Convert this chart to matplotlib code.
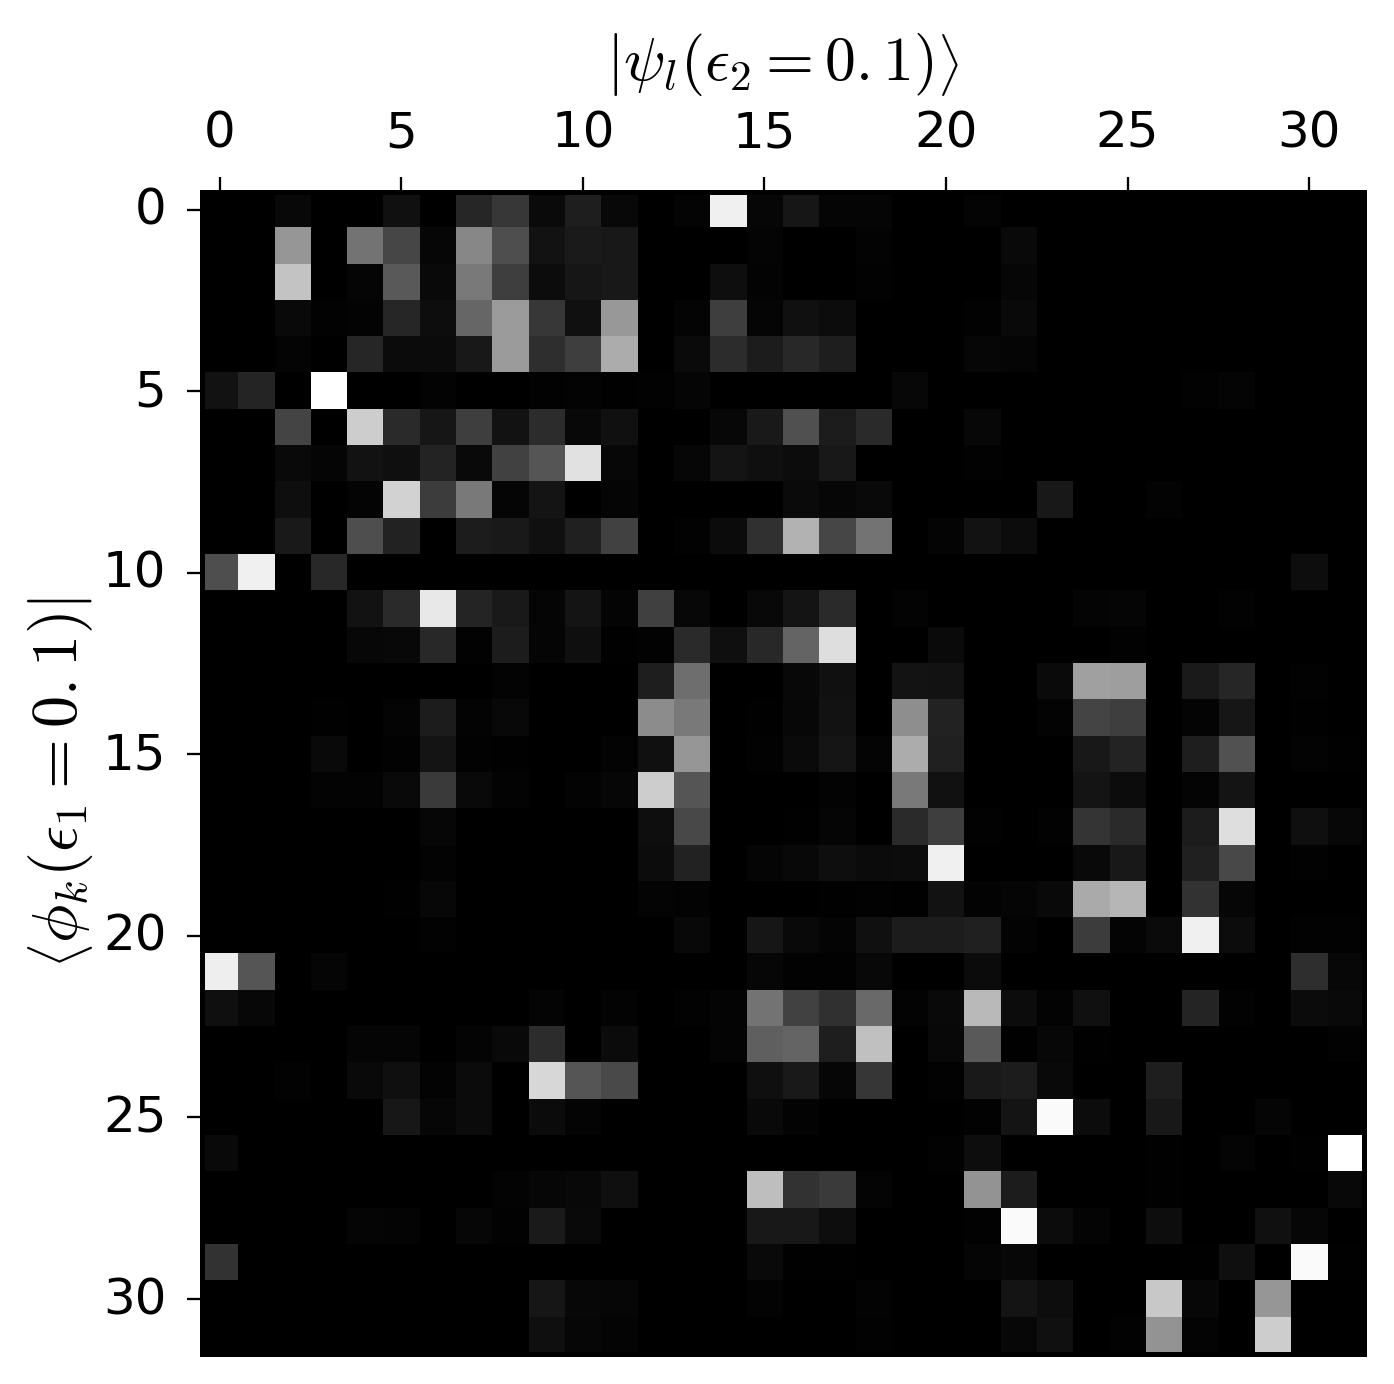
#!/usr/bin/python3
import numpy as np
import matplotlib as mpl
mpl.use('Agg')
import matplotlib.pyplot as plt
from matplotlib.transforms import ScaledTranslation

# overlap magnitudes, as grey levels 0-255, one list per row k
overlap = [
    [0,0,8,0,0,16,0,38,55,10,30,8,0,4,240,6,22,5,5,0,0,4,0,0,0,0,0,0,0,0,0,0],
    [0,0,150,0,115,70,6,135,78,18,26,24,0,0,0,4,0,0,3,0,0,0,9,0,0,0,0,0,0,0,0,0],
    [0,0,195,0,5,90,9,122,62,12,22,24,0,0,14,3,0,0,2,0,0,0,6,0,0,0,0,0,0,0,0,0],
    [0,0,9,2,3,38,13,102,155,55,16,152,0,4,62,5,16,12,0,0,0,2,9,0,0,0,0,0,0,0,0,0],
    [0,0,4,0,38,11,11,24,155,46,62,172,0,10,44,28,40,30,0,0,0,6,5,0,0,0,0,0,0,0,0,0],
    [18,36,0,255,0,0,3,0,0,2,3,1,2,5,0,0,0,0,0,7,0,0,0,0,0,0,0,2,4,0,0,0],
    [0,0,68,0,205,42,22,62,18,44,8,16,0,0,7,25,80,28,42,0,0,7,0,0,0,0,0,0,0,0,0,0],
    [0,0,9,5,18,15,35,9,65,85,225,7,0,6,20,15,12,24,0,0,0,2,0,0,0,0,0,0,0,0,0,0],
    [0,0,14,0,4,210,60,122,5,20,0,5,0,0,0,0,10,6,9,0,0,0,0,24,0,0,3,0,0,0,0,0],
    [0,0,25,0,78,34,0,28,25,16,32,65,0,2,11,48,178,70,115,0,4,18,12,0,0,0,0,0,0,0,0,0],
    [78,240,0,40,0,0,0,0,0,0,0,0,0,0,0,0,0,0,0,0,0,0,0,0,0,0,0,0,0,0,13,0],
    [0,0,0,0,18,42,232,36,25,5,20,4,64,7,0,8,20,42,0,3,0,0,0,0,4,5,0,0,2,0,0,0],
    [0,0,0,0,7,8,40,2,28,5,15,1,2,42,15,40,100,222,0,0,10,0,0,0,0,2,0,0,0,0,0,0],
    [0,0,0,0,0,0,0,0,3,0,0,0,30,110,0,0,8,16,0,19,18,0,0,10,160,158,0,26,38,0,2,0],
    [0,0,0,1,0,4,28,3,8,0,0,0,140,122,0,1,7,18,0,142,34,0,0,3,68,62,0,4,22,0,1,0],
    [0,0,0,9,0,2,20,2,1,0,0,3,16,150,0,2,10,21,4,172,32,0,0,0,24,35,0,30,82,0,3,1],
    [0,0,0,3,3,9,58,9,3,0,3,6,205,85,0,0,0,3,0,122,17,0,0,0,20,12,0,4,20,0,0,0],
    [0,0,0,0,0,0,6,0,0,0,0,0,14,72,0,0,1,5,0,42,62,2,0,2,52,42,0,28,222,0,15,7],
    [0,0,0,0,0,0,3,0,0,0,0,0,12,34,0,5,8,14,11,12,240,0,0,0,9,24,0,32,72,0,2,0],
    [0,0,0,0,0,1,7,0,0,0,0,0,4,3,0,0,0,1,2,1,18,3,5,9,170,182,0,50,6,0,0,0],
    [0,0,0,0,0,0,2,0,0,0,0,0,0,8,0,22,9,4,16,28,28,32,3,0,60,4,10,240,12,0,2,2],
    [238,85,0,5,0,0,0,0,0,0,0,0,0,0,0,6,2,2,8,0,0,11,0,0,0,0,0,0,0,0,46,7],
    [15,7,0,0,0,0,0,0,0,4,0,3,0,2,4,115,65,48,105,3,9,185,12,3,16,0,0,36,2,0,11,9],
    [0,0,0,0,5,5,0,4,9,45,0,11,0,0,4,95,100,30,192,0,8,90,1,7,1,0,0,0,0,0,0,2],
    [0,0,2,0,9,15,3,11,0,215,85,74,0,0,0,15,25,6,54,0,2,25,28,9,0,0,30,0,0,0,0,0],
    [0,0,0,0,0,23,6,11,0,11,4,0,0,0,0,9,3,0,0,0,0,2,20,250,12,0,24,0,0,5,0,0],
    [9,0,0,0,0,0,0,0,0,0,0,0,0,0,0,0,0,0,0,0,2,13,0,0,0,0,1,0,4,0,1,255],
    [0,0,0,0,0,0,0,0,3,6,8,15,0,0,0,190,50,58,4,0,0,148,28,0,0,0,1,0,0,0,0,8],
    [0,0,0,0,5,4,0,6,2,26,9,0,0,0,0,24,24,13,0,0,0,2,250,12,4,0,13,0,0,16,6,0],
    [50,0,0,0,0,0,0,0,0,0,0,0,0,0,0,9,1,1,0,0,0,5,7,0,0,0,0,1,15,0,250,1],
    [0,0,0,0,0,0,0,0,0,22,7,6,0,0,0,3,0,0,3,0,0,0,20,13,0,0,200,7,0,150,0,0],
    [0,0,0,0,0,0,0,0,0,15,6,4,0,0,0,0,0,0,2,0,0,0,7,16,0,2,148,4,0,205,0,0],
]
xlabel = r'$\left|\psi_l(\epsilon_2=0.{}1)\right\rangle$'
ylabel = r'$\left\langle\phi_k(\epsilon_1=0.{}1)\right|$'

mpl.rcParams.update({'font.size': 12, 'mathtext.fontset': 'cm'})

fig = plt.figure(figsize=(1394 / 300, 1385 / 300), dpi=300)
ax = fig.add_axes([201.8 / 1394, 1 - 1354.5 / 1385, (1363.5 - 201.8) / 1394, (1354.5 - 192.5) / 1385])
ax.imshow(np.array(overlap), cmap='gray', vmin=0, vmax=255, aspect='auto', interpolation='nearest')
ax.xaxis.tick_top()
ax.xaxis.set_label_position('top')
ax.set_xticks(np.arange(0, 31, 5))
ax.set_yticks(np.arange(0, 31, 5))
ax.tick_params(axis='x', pad=5, width=0.55)
ax.tick_params(axis='y', pad=5, width=0.55)
ax.set_xlabel(xlabel, fontsize=14.8, labelpad=7)
ax.set_ylabel(ylabel, fontsize=15.4, labelpad=2, y=0.4925)
for s in ax.spines.values():
    s.set_linewidth(1.2)

# the y labels sit a little above their ticks in the original
nudge = ScaledTranslation(0, 5 / 300, fig.dpi_scale_trans)
for lab in ax.get_yticklabels():
    lab.set_transform(lab.get_transform() + nudge)

plt.savefig('out.png', dpi=300)
plt.close(fig)
